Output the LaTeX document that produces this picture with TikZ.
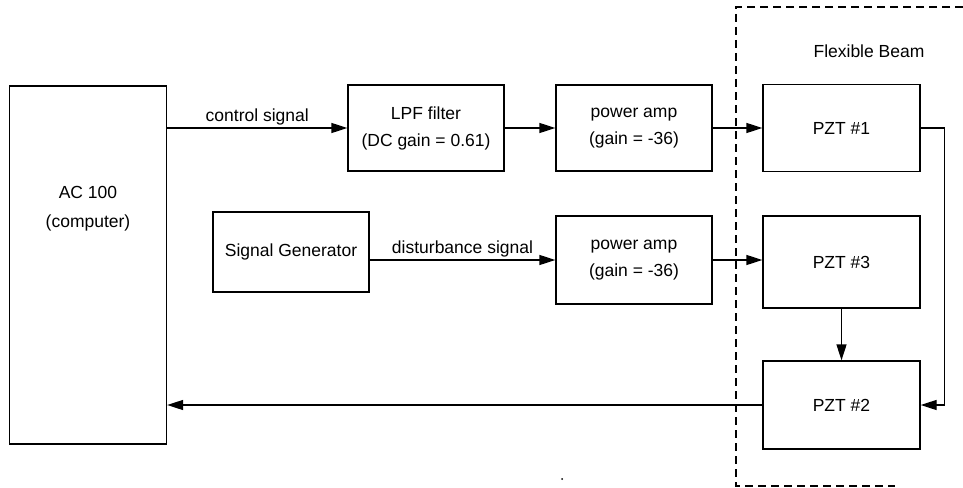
\documentclass[tikz,border=0pt]{standalone}
\usepackage{fontspec}
\setmainfont{Liberation Sans}
\usetikzlibrary{arrows.meta, positioning}

\tikzset{
  blockbox/.style={draw, line width=1.3pt, inner sep=0pt, align=center,
                   minimum width=156pt, font=\fontsize{17.5}{27}\selectfont},
  sigline/.style={line width=1.3pt, -{Triangle[length=16pt, width=10pt]}},
  plainline/.style={line width=1.3pt},
  sigtext/.style={font=\fontsize{17.5}{21}\selectfont, inner sep=2pt}
}

\begin{document}
\begin{tikzpicture}[x=1pt, y=-1pt]
\useasboundingbox (0,0) rectangle (963,487);

% --- Computer and signal source ---
\node[blockbox, minimum width=157pt, minimum height=358pt] (ac) at (88,265) {};
\node[font=\fontsize{17.5}{29}\selectfont, align=center] (aclabel) at (88,209) {AC 100\\(computer)};
\node[blockbox, minimum height=80pt] (siggen) at (291,252) {Signal Generator};

% --- Filter and amplifiers ---
\node[blockbox, minimum height=86pt] (lpf) at (426,128) {LPF filter\\(DC gain = 0.61)};
\node[blockbox, minimum height=86pt] (amptop) at (634,128) {power amp\\(gain = -36)};
\node[blockbox, minimum height=88pt] (ampbot) at (634,260) {power amp\\(gain = -36)};

% --- Flexible beam with the PZT patches ---
\draw[plainline, dash pattern=on 8pt off 5pt] (963,7) -- (736,7) -- (736,486) -- (895,486);
\node[sigtext] (beamlabel) at (869,51) {Flexible Beam};
\node[blockbox, minimum width=157pt, minimum height=87pt] (pzta) at (841.5,128) {PZT \#1};
\node[blockbox, minimum width=157pt, minimum height=92pt] (pztc) at (841.5,262) {PZT \#3};
\node[blockbox, minimum width=157pt, minimum height=88pt] (pztb) at (841.5,405) {PZT \#2};

% --- Signal paths ---
\draw[sigline] (ac.east |- lpf.west) -- (lpf.west)
      node[sigtext, midway, above] {control signal};
\draw[sigline] (lpf.east) -- (amptop.west);
\draw[sigline] (amptop.east) -- (pzta.west);
\draw[sigline] (siggen.east |- ampbot.west) -- (ampbot.west)
      node[sigtext, midway, above] {disturbance signal};
\draw[sigline] (ampbot.east) -- (ampbot.east -| pztc.west);
\draw[sigline] (pztc.south) -- (pztb.north);
\draw[sigline] (pzta.east) -- ++(24,0) |- (pztb.east);
\draw[sigline] (pztb.west) -- (pztb.west -| ac.east);

% stray dot
\fill (562,479) circle (1pt);

\end{tikzpicture}
\end{document}
